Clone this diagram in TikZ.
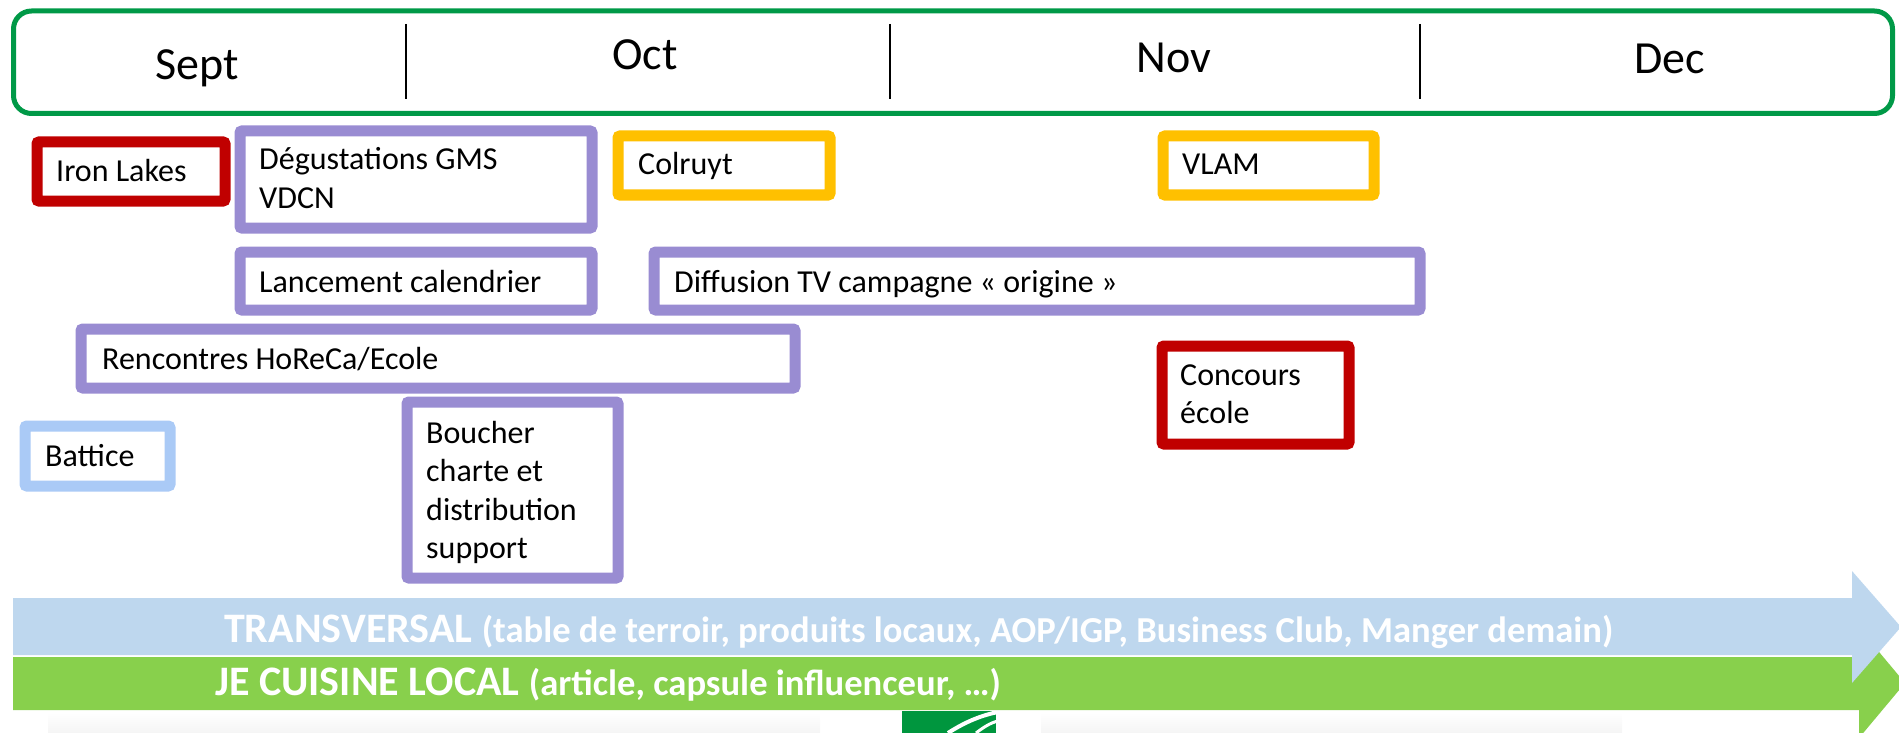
\documentclass[tikz,border=0pt]{standalone}
\usepackage{fontspec}
\setmainfont{Carlito}
\definecolor{hdrgreen}{RGB}{0,153,71}
\definecolor{evred}{RGB}{192,0,0}
\definecolor{evpurple}{RGB}{153,140,210}
\definecolor{evgold}{RGB}{255,192,0}
\definecolor{evblue}{RGB}{170,202,246}
\definecolor{arrblue}{RGB}{190,215,238}
\definecolor{arrgreen}{RGB}{136,208,76}
\definecolor{logogreen}{RGB}{0,150,62}
\tikzset{
  hdrbox/.style={draw=hdrgreen, line width=5pt, rounded corners=18pt, inner sep=0pt, outer sep=0pt},
  divider/.style={draw=black, line width=2.5pt},
  month/.style={anchor=base, inner sep=0pt, font=\fontsize{46}{55}\selectfont},
  evbox/.style={draw=#1, line width=11pt, rounded corners=2pt, fill=white, inner sep=0pt, outer sep=0pt, anchor=north west},
  lbl/.style={anchor=base west, inner sep=0pt, font=\fontsize{32}{38.5}\selectfont},
  barlbl/.style={anchor=base west, inner sep=0pt, text=white, font=\bfseries\fontsize{42}{50}\selectfont},
}
\newcommand\smallpart[1]{{\fontsize{36.6}{44}\selectfont #1}}
\newcommand\twolines[2]{\vtop{\hbox{#1}\hbox{#2}}}
\newcommand\fourlines[4]{\vtop{\hbox{#1}\hbox{#2}\hbox{#3}\hbox{#4}}}
\begin{document}
\begin{tikzpicture}[x=1pt,y=-1pt]
\useasboundingbox (0,0) rectangle (1899,733);
\clip (0,0) rectangle (1899,733);
% header
\node[hdrbox, minimum width=1879pt, minimum height=102.5pt] (hdr) at (953,62.25) {};
\draw[divider] (406,24) -- (406,99);
\draw[divider] (890,24) -- (890,99);
\draw[divider] (1420,24) -- (1420,99);
\node[month] (sept) at (197,80) {Sept};
\node[month] (oct) at (645,70) {Oct};
\node[month] (nov) at (1174,73) {Nov};
\node[month] (dec) at (1670,74) {Dec};
% event boxes
\node[evbox=evred, minimum width=188pt, minimum height=59pt] (iron) at (37,142) {};
\node[lbl] (ironT) at (56,182) {Iron Lakes};
\node[evbox=evpurple, minimum width=352pt, minimum height=97pt] (degu) at (240,131) {};
\node[lbl] (deguT) at (259,170) {\twolines{Dégustations GMS}{VDCN}};
\node[evbox=evgold, minimum width=212pt, minimum height=59pt] (colr) at (618,136) {};
\node[lbl] (colrT) at (638,175) {Colruyt};
\node[evbox=evgold, minimum width=211pt, minimum height=59pt] (vlam) at (1163,136) {};
\node[lbl] (vlamT) at (1182,175) {VLAM};
\node[evbox=evpurple, minimum width=352pt, minimum height=58pt] (lanc) at (240,252) {};
\node[lbl] (lancT) at (259,292) {Lancement calendrier};
\node[evbox=evpurple, minimum width=766pt, minimum height=58pt] (diff) at (654,252) {};
\node[lbl] (diffT) at (674,292) {Diffusion TV campagne « origine »};
\node[evbox=evpurple, minimum width=714pt, minimum height=59pt] (renc) at (81,329) {};
\node[lbl] (rencT) at (102,369) {Rencontres HoReCa/Ecole};
\node[evbox=evred, minimum width=187pt, minimum height=98pt] (conc) at (1162,346) {};
\node[lbl] (concT) at (1180,385) {\twolines{Concours}{école}};
\node[evbox=evblue, minimum width=145pt, minimum height=60pt] (batt) at (25,426) {};
\node[lbl] (battT) at (45,466) {Battice};
\node[evbox=evpurple, minimum width=211pt, minimum height=176pt] (bouch) at (407,402) {};
\node[lbl] (bouchT) at (426,443) {\fourlines{Boucher}{charte et}{distribution}{support}};
% faint shadows and logo fragment at bottom
\shade[top color=white, bottom color=black!4] (48,712) rectangle (820,733);
\shade[top color=white, bottom color=black!4] (1041,712) rectangle (1622,733);
\fill[logogreen] (902,711) rectangle (996,733);
\draw[white, line width=4pt] (948,733) .. controls (962,724) and (978,716) .. (998,712);
\draw[white, line width=3pt] (976,733) .. controls (984,727) and (990,723) .. (998,721);
% arrows
\fill[arrgreen] (13,657) -- (1859,657) -- (1859,628) -- (1905,683) -- (1859,738) -- (1859,710) -- (13,710) -- cycle;
\fill[arrblue] (13,598) -- (1852,598) -- (1852,571) -- (1901,627) -- (1852,683) -- (1852,655) -- (13,655) -- cycle;
\node[barlbl] (trans) at (224,642) {TRANSVERSAL \smallpart{(table de terroir, produits locaux, AOP/IGP, Business Club, Manger demain)}};
\node[barlbl] (jcl) at (215,695) {JE CUISINE LOCAL \smallpart{(article, capsule influenceur, …)}};
\end{tikzpicture}
\end{document}
